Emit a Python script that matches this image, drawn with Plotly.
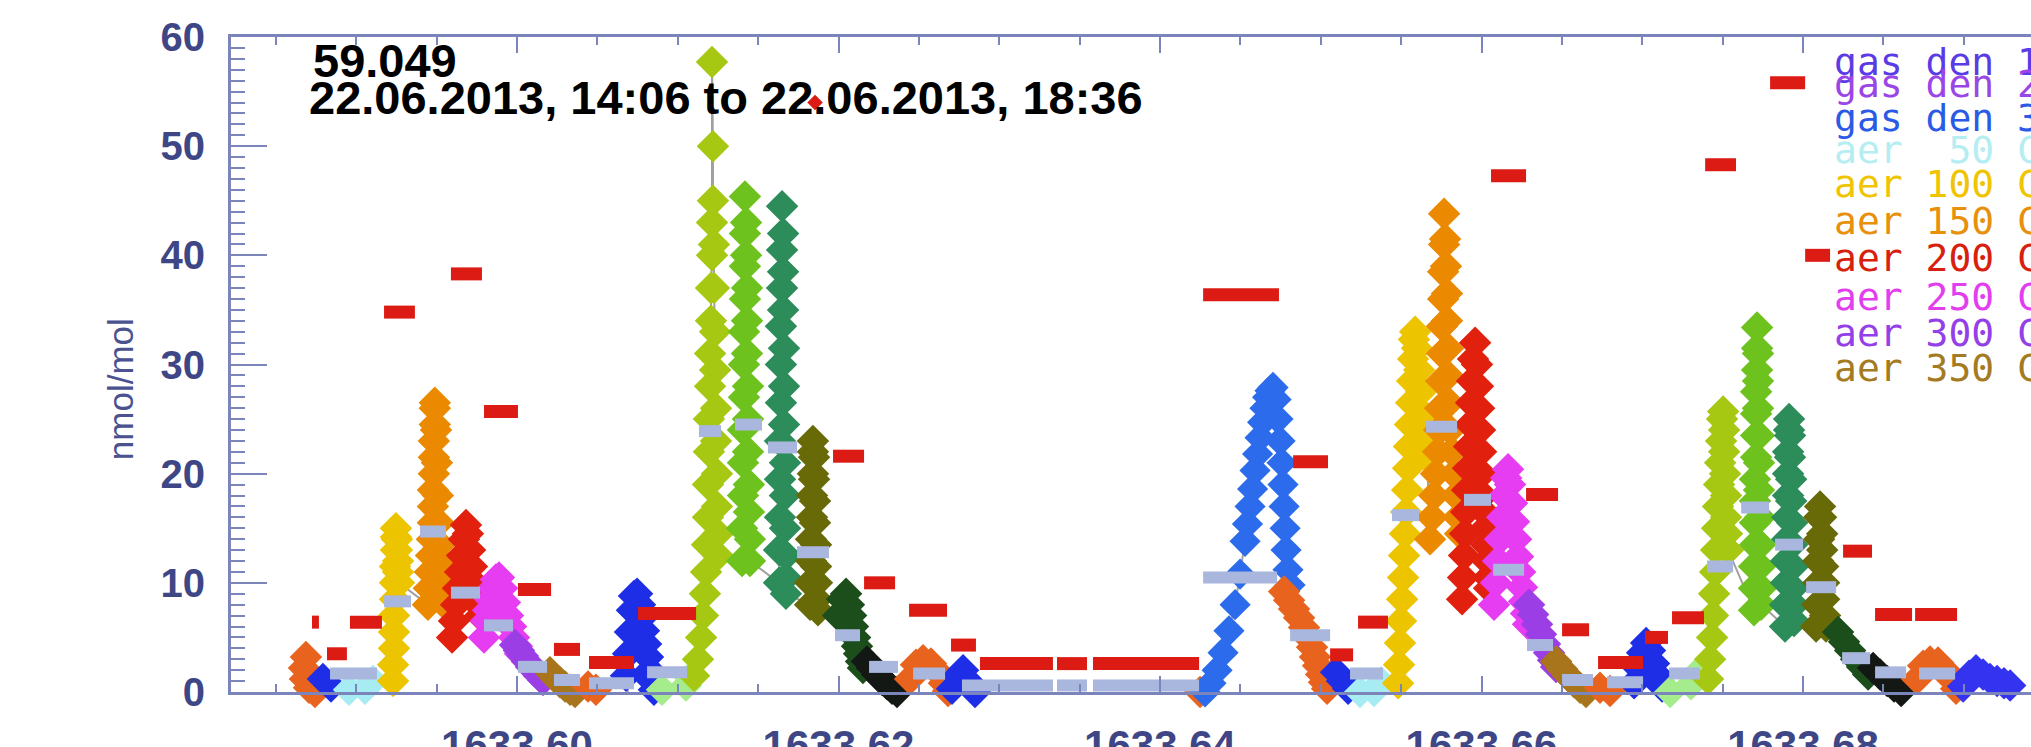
import plotly.graph_objects as go

# ---------------- data (x in axis units, y in nmol/mol) ----------------
OR1_X = [1633.58687, 1633.58675, 1633.58681, 1633.58706, 1633.58743, 1633.58781]
OR1_Y = [3.2, 2.2, 1.2, 0.4, 0.0, -0.2]
DB1_X = [1633.58793, 1633.58843, 1633.58893, 1633.58936]
DB1_Y = [1.2, 0.5, -0.2, -0.5]
CY1_X = [1633.58955, 1633.59005, 1633.59054, 1633.59104]
CY1_Y = [0.2, -0.2, 0.3, 1.0]
GD1_X = [1633.59229, 1633.59229, 1633.59235, 1633.59235, 1633.59235, 1633.59241, 1633.59241, 1633.59241,
         1633.59247, 1633.59247, 1633.59247, 1633.59253, 1633.59253, 1633.59260, 1633.59260, 1633.59266]
GD1_Y = [1.0, 2.5, 4.0, 5.5, 7.0, 8.5, 10.0, 11.5, 13.0, 14.2, 15.0, 14.0, 13.0, 12.0, 11.0, 10.0]
OG1_X = [1633.59446, 1633.59452, 1633.59458, 1633.59465, 1633.59471, 1633.59477, 1633.59477, 1633.59477,
         1633.59483, 1633.59483, 1633.59483, 1633.59489, 1633.59489, 1633.59489, 1633.59496, 1633.59502,
         1633.59508, 1633.59514, 1633.59521, 1633.59527, 1633.59533, 1633.59539, 1633.59546, 1633.59552]
OG1_Y = [8, 9.5, 11, 12.5, 14, 15.5, 17, 18.5, 20, 21.5, 23, 24.5, 26, 26.5, 24, 21, 18, 15.5, 13.5, 12,
         10.5, 9.5, 8.5, 8]
RD1_X = [1633.59596, 1633.59608, 1633.59621, 1633.59633, 1633.59646, 1633.59658, 1633.59670, 1633.59683,
         1633.59695, 1633.59708, 1633.59720, 1633.59733, 1633.59745, 1633.59758, 1633.59770]
RD1_Y = [5, 6.5, 8, 9.5, 11, 12.5, 14, 15.3, 14.5, 13, 11.5, 10, 9, 8, 7]
MG1_X = [1633.59795, 1633.59807, 1633.59820, 1633.59832, 1633.59851, 1633.59869, 1633.59888, 1633.59907,
         1633.59925, 1633.59944, 1633.59963, 1633.59981, 1633.60000, 1633.60019]
MG1_Y = [5, 6.5, 7.5, 8.5, 9.5, 10.3, 10.5, 9.5, 8.2, 7, 6, 5, 4.2, 3.5]
PU1_X = [1633.59988, 1633.60012, 1633.60037, 1633.60062, 1633.60087, 1633.60112, 1633.60137, 1633.60162]
PU1_Y = [4.3, 3.8, 3.3, 2.8, 2.3, 1.9, 1.5, 1.1]
BR1_X = [1633.60205, 1633.60236, 1633.60267, 1633.60299, 1633.60330, 1633.60361, 1633.60392]
BR1_Y = [1.8, 1.3, 0.9, 0.5, 0.2, 0.0, -0.2]
ORL1_X = [1633.60442, 1633.60491, 1633.60541, 1633.60591, 1633.60641, 1633.60691]
ORL1_Y = [0.5, 0.2, -0.1, -0.3, -0.3, -0.1]
DBP1_X = [1633.60678, 1633.60691, 1633.60703, 1633.60715, 1633.60728, 1633.60747, 1633.60765, 1633.60778,
          1633.60790, 1633.60803, 1633.60815, 1633.60827, 1633.60840, 1633.60852, 1633.60865]
DBP1_Y = [1.5, 3.5, 5.5, 7.5, 8.8, 9.0, 8.0, 6.8, 5.6, 4.4, 3.2, 2.0, 1.0, 0.2, -0.4]
LG1_X = [1633.60902, 1633.60939, 1633.60977, 1633.61014, 1633.61051, 1633.61076]
LG1_Y = [0.2, -0.4, -0.5, -0.1, 0.6, 1.3]
YG1_X = [1633.61101, 1633.61126, 1633.61145, 1633.61157, 1633.61169, 1633.61176, 1633.61182, 1633.61188,
         1633.61188, 1633.61194, 1633.61194, 1633.61201, 1633.61201, 1633.61207, 1633.61207, 1633.61213,
         1633.61213, 1633.61213, 1633.61219, 1633.61219, 1633.61225, 1633.61225, 1633.61232, 1633.61232,
         1633.61238, 1633.61238, 1633.61244, 1633.61244, 1633.61250, 1633.61250]
YG1_Y = [1.5, 3, 5, 7, 9, 11, 13.5, 16, 19, 22, 25, 28, 31, 34, 37, 40, 43, 57.7, 50, 45, 41, 37, 33, 29.5,
         26, 23, 20, 17, 14.5, 12.5]
GR1_X = [1633.61400, 1633.61400, 1633.61406, 1633.61406, 1633.61406, 1633.61412, 1633.61412, 1633.61412,
         1633.61418, 1633.61418, 1633.61418, 1633.61418, 1633.61425, 1633.61425, 1633.61431, 1633.61431,
         1633.61431, 1633.61437, 1633.61437, 1633.61437, 1633.61443, 1633.61443, 1633.61449, 1633.61449]
GR1_Y = [12, 15, 18, 21, 24, 27, 30, 33, 36, 39, 42, 45.4, 43, 40, 37, 34, 31, 28, 25, 22, 19, 16.5, 14, 12]
TL1_X = [1633.61630, 1633.61630, 1633.61636, 1633.61636, 1633.61636, 1633.61642, 1633.61642, 1633.61642,
         1633.61649, 1633.61649, 1633.61649, 1633.61655, 1633.61655, 1633.61655, 1633.61661, 1633.61661,
         1633.61661, 1633.61667, 1633.61667, 1633.61667, 1633.61673, 1633.61673, 1633.61673]
TL1_Y = [10, 13, 16, 19.5, 23, 26.5, 30, 33.5, 37, 40.5, 44.5, 42, 38.5, 35, 31.5, 28, 24.5, 21, 18, 15,
         12.5, 10.5, 9]
OV1_X = [1633.61823, 1633.61823, 1633.61829, 1633.61829, 1633.61835, 1633.61835, 1633.61841, 1633.61841,
         1633.61841, 1633.61848, 1633.61848, 1633.61854, 1633.61854, 1633.61860, 1633.61860, 1633.61866,
         1633.61866, 1633.61872]
OV1_Y = [8, 10, 12, 14, 16, 18, 20, 22, 23, 21.5, 19.5, 17.5, 15.5, 13.5, 11.5, 10, 8.5, 7.5]
DG1_X = [1633.61997, 1633.62022, 1633.62047, 1633.62065, 1633.62078, 1633.62090, 1633.62103, 1633.62115,
         1633.62128, 1633.62140, 1633.62152]
DG1_Y = [7, 8.5, 9, 8, 7, 6, 5, 4.2, 3.5, 2.8, 2.2]
BK1_X = [1633.62177, 1633.62208, 1633.62240, 1633.62271, 1633.62302, 1633.62333, 1633.62364]
BK1_Y = [2.8, 2.2, 1.6, 1.1, 0.7, 0.3, 0.0]
ORC1_X = [1633.62445, 1633.62482, 1633.62526, 1633.62575, 1633.62619, 1633.62656, 1633.62681]
ORC1_Y = [1.2, 2.5, 2.9, 2.6, 1.8, 0.8, 0.1]
DBF_X = [1633.62706, 1633.62743, 1633.62775, 1633.62806, 1633.62849, 1633.63005, 1633.63160, 1633.63316,
         1633.63471, 1633.63627, 1633.63782, 1633.63938, 1633.64093, 1633.64249]
DBF_Y = [0.3, 1.5, 2.0, 1.0, 0.0, -0.3, -0.3, -0.3, -0.3, -0.3, -0.3, -0.3, -0.3, -0.3]
ORF_X = [1633.63440, 1633.63534, 1633.64156, 1633.64249]
ORF_Y = [-0.4, -0.4, -0.3, 0.0]
BP_X = [1633.64280, 1633.64317, 1633.64355, 1633.64392, 1633.64429, 1633.64467, 1633.64498, 1633.64529,
        1633.64544, 1633.64560, 1633.64576, 1633.64591, 1633.64607, 1633.64622, 1633.64638, 1633.64653,
        1633.64669, 1633.64684, 1633.64703, 1633.64722, 1633.64734, 1633.64747, 1633.64759, 1633.64765,
        1633.64772, 1633.64778, 1633.64784, 1633.64796, 1633.64809]
BP_Y = [0, 0.8, 2, 3.6, 5.6, 8, 10.8, 13.8, 15.4, 17, 18.6, 20.3, 21.8, 23.3, 24.7, 26, 27, 27.6, 27.9,
        26.8, 25, 23, 21, 19, 17, 15, 13, 11.2, 9.8]
ORD_X = [1633.64772, 1633.64803, 1633.64834, 1633.64865, 1633.64896, 1633.64921, 1633.64946, 1633.64964,
         1633.64983, 1633.65002, 1633.65020, 1633.65039, 1633.65058]
ORD_Y = [9.2, 8.4, 7.6, 6.8, 5.9, 5.0, 4.1, 3.2, 2.4, 1.6, 0.9, 0.3, -0.3]
DB2_X = [1633.65095, 1633.65132, 1633.65170, 1633.65207]
DB2_Y = [1.8, 1.0, 0.3, -0.3]
CY2_X = [1633.65244, 1633.65288, 1633.65331, 1633.65375]
CY2_Y = [0.0, -0.3, 0.1, 0.9]
GD2_X = [1633.65481, 1633.65487, 1633.65493, 1633.65499, 1633.65506, 1633.65512, 1633.65518, 1633.65524,
         1633.65531, 1633.65537, 1633.65543, 1633.65549, 1633.65555, 1633.65562, 1633.65568, 1633.65574,
         1633.65580, 1633.65587, 1633.65599, 1633.65612, 1633.65624, 1633.65636, 1633.65649, 1633.65661]
GD2_Y = [0.8, 2.5, 4.5, 6.5, 8.5, 10.5, 12.5, 14.5, 16.5, 18.5, 20.5, 22.5, 24.5, 26.5, 28.5, 30.5, 32.3,
         33, 31.5, 29.5, 27.5, 25.5, 23.5, 21.5]
OG2_X = [1633.65680, 1633.65692, 1633.65705, 1633.65717, 1633.65729, 1633.65736, 1633.65742, 1633.65748,
         1633.65754, 1633.65754, 1633.65761, 1633.65761, 1633.65767, 1633.65767, 1633.65773, 1633.65779,
         1633.65785, 1633.65785, 1633.65792, 1633.65792, 1633.65798, 1633.65804, 1633.65816, 1633.65829,
         1633.65841, 1633.65854, 1633.65866]
OG2_Y = [14, 16, 18, 20, 22, 24, 26, 28.5, 31, 33.5, 36, 38.5, 41, 43.8, 41.5, 39, 36.5, 34, 31.5, 29,
         26.5, 24, 22, 20, 18, 16, 14.5]
RD2_X = [1633.65879, 1633.65885, 1633.65891, 1633.65897, 1633.65904, 1633.65910, 1633.65916, 1633.65922,
         1633.65929, 1633.65935, 1633.65941, 1633.65947, 1633.65960, 1633.65972, 1633.65978, 1633.65985,
         1633.65991, 1633.65997, 1633.66003, 1633.66010, 1633.66016, 1633.66022, 1633.66028, 1633.66034,
         1633.66041, 1633.66047]
RD2_Y = [8.5, 10.5, 12.5, 14.5, 16.5, 18.5, 20.5, 22.5, 24.5, 26.5, 28.5, 30.5, 32, 30, 28, 26, 24, 22,
         20, 18, 16.5, 15, 13.5, 12, 10.5, 9.5]
MG2_X = [1633.66078, 1633.66090, 1633.66103, 1633.66115, 1633.66128, 1633.66140, 1633.66153, 1633.66165,
         1633.66177, 1633.66190, 1633.66202, 1633.66215, 1633.66227, 1633.66240, 1633.66252, 1633.66264,
         1633.66277, 1633.66289]
MG2_Y = [8, 10, 12, 14, 16, 18, 19.6, 20.4, 19, 17.3, 15.6, 14, 12.4, 11, 9.6, 8.3, 7.2, 6.2]
PU2_X = [1633.66296, 1633.66321, 1633.66345, 1633.66370, 1633.66395, 1633.66420, 1633.66445, 1633.66464]
PU2_Y = [8, 7.1, 6.2, 5.3, 4.4, 3.6, 2.9, 2.3]
BR2_X = [1633.66464, 1633.66501, 1633.66538, 1633.66576, 1633.66613, 1633.66650, 1633.66681]
BR2_Y = [2.8, 2.1, 1.5, 0.9, 0.4, 0.0, -0.4]
ORL2_X = [1633.66737, 1633.66799, 1633.66862, 1633.66924, 1633.66974]
ORL2_Y = [0.4, 0.1, -0.2, -0.3, -0.2]
DBP2_X = [1633.66949, 1633.66974, 1633.66999, 1633.67024, 1633.67048, 1633.67073, 1633.67098, 1633.67123,
          1633.67148]
DBP2_Y = [0.8, 2.2, 3.6, 4.5, 3.8, 2.6, 1.5, 0.5, -0.3]
LG2_X = [1633.67173, 1633.67216, 1633.67260, 1633.67303, 1633.67347]
LG2_Y = [0.0, -0.4, -0.1, 0.7, 1.8]
YG2_X = [1633.67409, 1633.67422, 1633.67434, 1633.67440, 1633.67447, 1633.67453, 1633.67459, 1633.67465,
         1633.67471, 1633.67478, 1633.67484, 1633.67490, 1633.67496, 1633.67503, 1633.67509, 1633.67509,
         1633.67515, 1633.67521, 1633.67521, 1633.67527, 1633.67534]
YG2_Y = [1.2, 3, 5, 7, 9, 11, 13, 15, 17, 19, 21, 23, 25, 25.7, 24, 22, 20, 18, 16, 14.5, 13]
GR2_X = [1633.67695, 1633.67695, 1633.67695, 1633.67701, 1633.67701, 1633.67701, 1633.67701, 1633.67708,
         1633.67708, 1633.67708, 1633.67708, 1633.67714, 1633.67714, 1633.67714, 1633.67720, 1633.67720,
         1633.67720, 1633.67726, 1633.67726, 1633.67726, 1633.67733, 1633.67733, 1633.67733, 1633.67739,
         1633.67739]
GR2_Y = [7.5, 9.5, 11.5, 13.5, 15.5, 17.5, 19.5, 21.5, 23.5, 25.5, 27.5, 29.5, 31.5, 33.4, 31, 28.5, 26,
         23.5, 21, 18.5, 16, 13.5, 11.5, 9.5, 8]
TL2_X = [1633.67888, 1633.67888, 1633.67894, 1633.67894, 1633.67901, 1633.67901, 1633.67907, 1633.67907,
         1633.67907, 1633.67913, 1633.67913, 1633.67919, 1633.67919, 1633.67926, 1633.67926, 1633.67932,
         1633.67932, 1633.67938, 1633.67938, 1633.67944, 1633.67944]
TL2_Y = [6, 8, 10, 12, 14, 16, 18, 20, 22, 24, 25, 23.5, 21.5, 19.5, 17.5, 15.5, 13.5, 11.5, 9.5, 8, 6.5]
OV2_X = [1633.68081, 1633.68087, 1633.68094, 1633.68094, 1633.68100, 1633.68100, 1633.68106, 1633.68112,
         1633.68119, 1633.68119, 1633.68125, 1633.68131, 1633.68131, 1633.68137, 1633.68143]
OV2_Y = [6, 8, 10, 12, 14, 16, 17, 16, 14.5, 13, 11.5, 10, 8.5, 7, 6]
DG2_X = [1633.68218, 1633.68255, 1633.68293, 1633.68330, 1633.68367, 1633.68405]
DG2_Y = [5.5, 4.6, 3.8, 3.0, 2.3, 1.6]
BK2_X = [1633.68436, 1633.68479, 1633.68523, 1633.68566, 1633.68610, 1633.68647]
BK2_Y = [2.2, 1.6, 1.0, 0.5, 0.1, -0.2]
ORC2_X = [1633.68709, 1633.68747, 1633.68790, 1633.68840, 1633.68884, 1633.68921, 1633.68952]
ORC2_Y = [1.2, 2.4, 2.8, 2.7, 2.0, 1.2, 0.3]
BE_X = [1633.68996, 1633.69033, 1633.69076, 1633.69120, 1633.69163, 1633.69207, 1633.69250, 1633.69288]
BE_Y = [0.5, 1.5, 2.0, 1.6, 1.2, 1.0, 0.8, 0.6]

# averages (light bars): start, end, value
AVG_X0 = [1633.58837, 1633.59173, 1633.59397, 1633.59589, 1633.59795, 1633.60006, 1633.60230, 1633.60448,
          1633.60809, 1633.61132, 1633.61356, 1633.61561, 1633.61742, 1633.61978, 1633.62190, 1633.62464,
          1633.62768, 1633.63359, 1633.63583, 1633.64268, 1633.64809, 1633.65182, 1633.65443, 1633.65655,
          1633.65891, 1633.66072, 1633.66283, 1633.66501, 1633.66781, 1633.67167, 1633.67403, 1633.67615,
          1633.67826, 1633.68019, 1633.68243, 1633.68448, 1633.68722]
AVG_X1 = [1633.59129, 1633.59341, 1633.59558, 1633.59770, 1633.59975, 1633.60187, 1633.60392, 1633.60728,
          1633.61058, 1633.61269, 1633.61524, 1633.61742, 1633.61941, 1633.62134, 1633.62370, 1633.62663,
          1633.63334, 1633.63546, 1633.64243, 1633.64728, 1633.65058, 1633.65387, 1633.65611, 1633.65848,
          1633.66059, 1633.66265, 1633.66445, 1633.66694, 1633.67005, 1633.67359, 1633.67565, 1633.67789,
          1633.68000, 1633.68206, 1633.68417, 1633.68641, 1633.68946]
AVG_Y = [1.7, 8.3, 14.7, 9.1, 6.1, 2.3, 1.1, 0.8, 1.8, 23.9, 24.5, 22.4, 12.8, 5.2, 2.3, 1.7, 0.6, 0.6, 0.6,
         10.5, 5.2, 1.7, 16.2, 24.3, 17.6, 11.2, 4.3, 1.1, 0.9, 1.7, 11.5, 16.9, 13.5, 9.6, 3.1, 1.8, 1.7]

# red dashes: start, end, value
RED_X0 = [1633.58725, 1633.58961, 1633.58818, 1633.59173, 1633.59589, 1633.59795, 1633.60006, 1633.60230,
          1633.60448, 1633.60753, 1633.61966, 1633.62159, 1633.62439, 1633.62700, 1633.62880, 1633.63359,
          1633.63583, 1633.64268, 1633.64828, 1633.65058, 1633.65232, 1633.66059, 1633.66277, 1633.66501,
          1633.66725, 1633.67017, 1633.67185, 1633.67391, 1633.67795, 1633.68013, 1633.68249, 1633.68448,
          1633.68697]
RED_X1 = [1633.58768, 1633.59160, 1633.58942, 1633.59365, 1633.59782, 1633.60006, 1633.60212, 1633.60392,
          1633.60728, 1633.61114, 1633.62159, 1633.62352, 1633.62675, 1633.62855, 1633.63334, 1633.63546,
          1633.64243, 1633.64740, 1633.65045, 1633.65201, 1633.65418, 1633.66277, 1633.66476, 1633.66669,
          1633.67005, 1633.67160, 1633.67384, 1633.67583, 1633.68013, 1633.68168, 1633.68429, 1633.68678,
          1633.68958]
RED_Y = [6.4, 6.4, 3.5, 34.8, 38.3, 25.7, 9.4, 3.9, 2.7, 7.2, 21.6, 10.0, 7.5, 4.3, 2.6, 2.6, 2.6, 36.4,
         21.1, 3.4, 6.4, 47.3, 18.1, 5.7, 2.7, 5.0, 6.8, 48.3, 55.8, 40.0, 12.9, 7.1, 7.1]

RED_PT_X = [1633.61854]
RED_PT_Y = [54.0]

LEGEND_TEXT = ["gas den 1", "gas den 2", "gas den 3", "aer  50 C", "aer 100 C", "aer 150 C",
               "aer 200 C", "aer 250 C", "aer 300 C", "aer 350 C"]
LEGEND_COLORS = ["#5a3ce6", "#9a46e6", "#2a5ae6", "#b4eef2", "#f0c400", "#e8900c", "#d8200e",
                 "#e23ef0", "#9440e8", "#a47a22"]
TITLE_1 = "59.049"
TITLE_2 = "22.06.2013, 14:06 to 22.06.2013, 18:36"
Y_TITLE = "nmol/mol"

# ---------------- colours ----------------
C_ORR = "#e8641e"; C_DB = "#1e2ee6"; C_CY = "#a6ecf2"; C_GD = "#ecc400"; C_OG = "#eb8a00"
C_RD = "#e2200e"; C_MG = "#e63cf2"; C_PU = "#9c3ee6"; C_BR = "#a8741c"; C_LG = "#a4ec8c"
C_YG = "#a6c812"; C_GR = "#6ec21e"; C_TL = "#2c8c5a"; C_OV = "#686a08"; C_DG = "#1c4e1c"
C_BK = "#141814"; C_BP = "#2c6cec"; C_BE = "#3434f0"

SERIES = [
    (OR1_X, OR1_Y, C_ORR), (DB1_X, DB1_Y, C_DB), (CY1_X, CY1_Y, C_CY), (GD1_X, GD1_Y, C_GD),
    (OG1_X, OG1_Y, C_OG), (RD1_X, RD1_Y, C_RD), (MG1_X, MG1_Y, C_MG), (PU1_X, PU1_Y, C_PU),
    (BR1_X, BR1_Y, C_BR), (ORL1_X, ORL1_Y, C_ORR), (DBP1_X, DBP1_Y, C_DB), (LG1_X, LG1_Y, C_LG),
    (YG1_X, YG1_Y, C_YG), (GR1_X, GR1_Y, C_GR), (TL1_X, TL1_Y, C_TL), (OV1_X, OV1_Y, C_OV),
    (DG1_X, DG1_Y, C_DG), (BK1_X, BK1_Y, C_BK), (ORC1_X, ORC1_Y, C_ORR), (DBF_X, DBF_Y, C_DB),
    (ORF_X, ORF_Y, C_ORR), (BP_X, BP_Y, C_BP), (ORD_X, ORD_Y, C_ORR), (DB2_X, DB2_Y, C_DB),
    (CY2_X, CY2_Y, C_CY), (GD2_X, GD2_Y, C_GD), (OG2_X, OG2_Y, C_OG), (RD2_X, RD2_Y, C_RD),
    (MG2_X, MG2_Y, C_MG), (PU2_X, PU2_Y, C_PU), (BR2_X, BR2_Y, C_BR), (ORL2_X, ORL2_Y, C_ORR),
    (DBP2_X, DBP2_Y, C_DB), (LG2_X, LG2_Y, C_LG), (YG2_X, YG2_Y, C_YG), (GR2_X, GR2_Y, C_GR),
    (TL2_X, TL2_Y, C_TL), (OV2_X, OV2_Y, C_OV), (DG2_X, DG2_Y, C_DG), (BK2_X, BK2_Y, C_BK),
    (ORC2_X, ORC2_Y, C_ORR), (BE_X, BE_Y, C_BE),
]

SANS = "Liberation Sans, Arial, sans-serif"
AX = "#7c84bc"
TXT = "#3e4686"

fig = go.Figure()

# gray connecting line under all symbols
all_x, all_y = [], []
for sx, sy, _ in SERIES:
    all_x += sx
    all_y += sy
fig.add_trace(go.Scatter(x=all_x, y=all_y, mode="lines", line=dict(color="#a0a0a0", width=2),
                         showlegend=False, hoverinfo="skip"))

for sx, sy, col in SERIES:
    size = 24 if col == C_BP else 25
    fig.add_trace(go.Scatter(x=sx, y=sy, mode="markers",
                             marker=dict(symbol="diamond", size=size, color=col, line=dict(width=0)),
                             cliponaxis=False, showlegend=False, hoverinfo="skip"))

# average bars
ax_, ay_ = [], []
for a, b, v in zip(AVG_X0, AVG_X1, AVG_Y):
    ax_ += [a, b, None]
    ay_ += [v, v, None]
fig.add_trace(go.Scatter(x=ax_, y=ay_, mode="lines", line=dict(color="#a9b6de", width=12),
                         cliponaxis=False, showlegend=False, hoverinfo="skip"))

# red dashes
rx_, ry_ = [], []
for a, b, v in zip(RED_X0, RED_X1, RED_Y):
    rx_ += [a, b, None]
    ry_ += [v, v, None]
fig.add_trace(go.Scatter(x=rx_, y=ry_, mode="lines", line=dict(color="#dc1c14", width=13),
                         cliponaxis=False, showlegend=False, hoverinfo="skip"))
fig.add_trace(go.Scatter(x=RED_PT_X, y=RED_PT_Y, mode="markers",
                         marker=dict(symbol="diamond", size=12, color="#dc1c14"),
                         showlegend=False, hoverinfo="skip"))

# titles
fig.add_annotation(xref="paper", yref="paper", x=0.0444, y=0.9640, xanchor="left", yanchor="middle",
                   text="<b>%s</b>" % TITLE_1, showarrow=False,
                   font=dict(family=SANS, size=47, color="#000000"))
fig.add_annotation(xref="paper", yref="paper", x=0.0422, y=0.9070, xanchor="left", yanchor="middle",
                   text="<b>%s</b>" % TITLE_2, showarrow=False,
                   font=dict(family=SANS, size=47, color="#000000"))
fig.add_annotation(xref="paper", yref="paper", x=-0.061, y=0.4626, xanchor="center", yanchor="middle",
                   text=Y_TITLE, textangle=-90, showarrow=False,
                   font=dict(family=SANS, size=35, color="#4a5290"))

LEG_Y = [0.9618, 0.9282, 0.8763, 0.8275, 0.7756, 0.7191, 0.6626, 0.6031, 0.5481, 0.4947]
for t, c, yy in zip(LEGEND_TEXT, LEGEND_COLORS, LEG_Y):
    fig.add_annotation(xref="paper", yref="paper", x=0.8894, y=yy, xanchor="left", yanchor="middle",
                       text=t.replace(" ", "&nbsp;"), showarrow=False,
                       font=dict(family="DejaVu Sans Mono, monospace", size=38, color=c))

fig.update_layout(
    width=2031, height=747,
    margin=dict(l=231, r=0, t=37, b=55),
    paper_bgcolor="white", plot_bgcolor="white",
    xaxis=dict(range=[1633.58221, 1633.69418], showline=True, linecolor=AX, linewidth=3, mirror="ticks",
               ticks="inside", ticklen=16, tickwidth=2, tickcolor=AX, tick0=1633.60, dtick=0.02,
               tickformat=".2f",
               minor=dict(dtick=0.005, tick0=1633.60, ticks="inside", ticklen=8, tickwidth=2, tickcolor=AX),
               showgrid=False, zeroline=False,
               tickfont=dict(family=SANS, size=42, color=TXT, weight="bold"),
               ticklabelstandoff=15, automargin=False),
    yaxis=dict(range=[0, 60], showline=True, linecolor=AX, linewidth=3,
               ticks="inside", ticklen=36, tickwidth=2, tickcolor=AX, tick0=0, dtick=10,
               minor=dict(dtick=1, ticks="inside", ticklen=14, tickwidth=2, tickcolor=AX),
               showgrid=False, zeroline=False,
               tickfont=dict(family=SANS, size=40, color=TXT, weight="bold"),
               ticklabelstandoff=15, automargin=False),
)

fig.write_html("out.html")
